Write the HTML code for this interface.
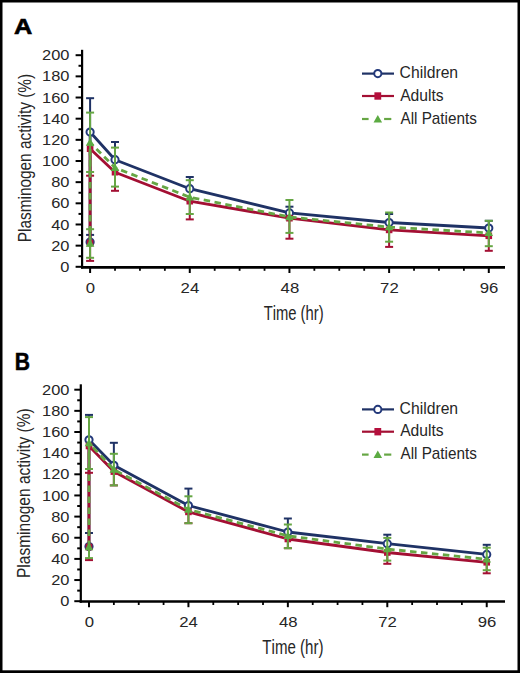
<!DOCTYPE html>
<html><head><meta charset="utf-8"><style>
html,body{margin:0;padding:0;background:#fff;}
svg{display:block;}
text{font-family:"Liberation Sans",sans-serif;font-kerning:none;}
</style></head><body>
<svg width="520" height="673" viewBox="0 0 520 673">
<rect x="0" y="0" width="520" height="673" fill="#fff"/>
<line x1="82.10" y1="49.80" x2="82.10" y2="268.50" stroke="#000" stroke-width="2.2"/>
<line x1="81.00" y1="267.30" x2="505.00" y2="267.30" stroke="#000" stroke-width="2.8"/>
<line x1="75.60" y1="266.80" x2="82.10" y2="266.80" stroke="#000" stroke-width="2"/>
<line x1="78.50" y1="256.22" x2="82.10" y2="256.22" stroke="#000" stroke-width="2"/>
<line x1="75.60" y1="245.64" x2="82.10" y2="245.64" stroke="#000" stroke-width="2"/>
<line x1="78.50" y1="235.06" x2="82.10" y2="235.06" stroke="#000" stroke-width="2"/>
<line x1="75.60" y1="224.48" x2="82.10" y2="224.48" stroke="#000" stroke-width="2"/>
<line x1="78.50" y1="213.90" x2="82.10" y2="213.90" stroke="#000" stroke-width="2"/>
<line x1="75.60" y1="203.32" x2="82.10" y2="203.32" stroke="#000" stroke-width="2"/>
<line x1="78.50" y1="192.74" x2="82.10" y2="192.74" stroke="#000" stroke-width="2"/>
<line x1="75.60" y1="182.16" x2="82.10" y2="182.16" stroke="#000" stroke-width="2"/>
<line x1="78.50" y1="171.58" x2="82.10" y2="171.58" stroke="#000" stroke-width="2"/>
<line x1="75.60" y1="161.00" x2="82.10" y2="161.00" stroke="#000" stroke-width="2"/>
<line x1="78.50" y1="150.42" x2="82.10" y2="150.42" stroke="#000" stroke-width="2"/>
<line x1="75.60" y1="139.84" x2="82.10" y2="139.84" stroke="#000" stroke-width="2"/>
<line x1="78.50" y1="129.26" x2="82.10" y2="129.26" stroke="#000" stroke-width="2"/>
<line x1="75.60" y1="118.68" x2="82.10" y2="118.68" stroke="#000" stroke-width="2"/>
<line x1="78.50" y1="108.10" x2="82.10" y2="108.10" stroke="#000" stroke-width="2"/>
<line x1="75.60" y1="97.52" x2="82.10" y2="97.52" stroke="#000" stroke-width="2"/>
<line x1="78.50" y1="86.94" x2="82.10" y2="86.94" stroke="#000" stroke-width="2"/>
<line x1="75.60" y1="76.36" x2="82.10" y2="76.36" stroke="#000" stroke-width="2"/>
<line x1="78.50" y1="65.78" x2="82.10" y2="65.78" stroke="#000" stroke-width="2"/>
<line x1="75.60" y1="55.20" x2="82.10" y2="55.20" stroke="#000" stroke-width="2"/>
<line x1="90.10" y1="267.30" x2="90.10" y2="273.00" stroke="#000" stroke-width="2"/>
<line x1="115.02" y1="267.30" x2="115.02" y2="270.80" stroke="#000" stroke-width="1.8"/>
<line x1="139.94" y1="267.30" x2="139.94" y2="270.80" stroke="#000" stroke-width="1.8"/>
<line x1="164.85" y1="267.30" x2="164.85" y2="270.80" stroke="#000" stroke-width="1.8"/>
<line x1="189.77" y1="267.30" x2="189.77" y2="273.00" stroke="#000" stroke-width="2"/>
<line x1="214.69" y1="267.30" x2="214.69" y2="270.80" stroke="#000" stroke-width="1.8"/>
<line x1="239.61" y1="267.30" x2="239.61" y2="270.80" stroke="#000" stroke-width="1.8"/>
<line x1="264.53" y1="267.30" x2="264.53" y2="270.80" stroke="#000" stroke-width="1.8"/>
<line x1="289.44" y1="267.30" x2="289.44" y2="273.00" stroke="#000" stroke-width="2"/>
<line x1="314.36" y1="267.30" x2="314.36" y2="270.80" stroke="#000" stroke-width="1.8"/>
<line x1="339.28" y1="267.30" x2="339.28" y2="270.80" stroke="#000" stroke-width="1.8"/>
<line x1="364.20" y1="267.30" x2="364.20" y2="270.80" stroke="#000" stroke-width="1.8"/>
<line x1="389.12" y1="267.30" x2="389.12" y2="273.00" stroke="#000" stroke-width="2"/>
<line x1="414.03" y1="267.30" x2="414.03" y2="270.80" stroke="#000" stroke-width="1.8"/>
<line x1="438.95" y1="267.30" x2="438.95" y2="270.80" stroke="#000" stroke-width="1.8"/>
<line x1="463.87" y1="267.30" x2="463.87" y2="270.80" stroke="#000" stroke-width="1.8"/>
<line x1="488.79" y1="267.30" x2="488.79" y2="273.00" stroke="#000" stroke-width="2"/>
<text x="60.30" y="271.90" font-size="15.50" font-weight="normal" textLength="9.14" lengthAdjust="spacingAndGlyphs" fill="#262626" >0</text>
<text x="51.17" y="250.74" font-size="15.50" font-weight="normal" textLength="18.28" lengthAdjust="spacingAndGlyphs" fill="#262626" >20</text>
<text x="51.17" y="229.58" font-size="15.50" font-weight="normal" textLength="18.28" lengthAdjust="spacingAndGlyphs" fill="#262626" >40</text>
<text x="51.17" y="208.42" font-size="15.50" font-weight="normal" textLength="18.28" lengthAdjust="spacingAndGlyphs" fill="#262626" >60</text>
<text x="51.17" y="187.26" font-size="15.50" font-weight="normal" textLength="18.28" lengthAdjust="spacingAndGlyphs" fill="#262626" >80</text>
<text x="42.03" y="166.10" font-size="15.50" font-weight="normal" textLength="27.41" lengthAdjust="spacingAndGlyphs" fill="#262626" >100</text>
<text x="42.03" y="144.94" font-size="15.50" font-weight="normal" textLength="27.41" lengthAdjust="spacingAndGlyphs" fill="#262626" >120</text>
<text x="42.03" y="123.78" font-size="15.50" font-weight="normal" textLength="27.41" lengthAdjust="spacingAndGlyphs" fill="#262626" >140</text>
<text x="42.03" y="102.62" font-size="15.50" font-weight="normal" textLength="27.41" lengthAdjust="spacingAndGlyphs" fill="#262626" >160</text>
<text x="42.03" y="81.46" font-size="15.50" font-weight="normal" textLength="27.41" lengthAdjust="spacingAndGlyphs" fill="#262626" >180</text>
<text x="42.03" y="60.30" font-size="15.50" font-weight="normal" textLength="27.41" lengthAdjust="spacingAndGlyphs" fill="#262626" >200</text>
<text x="85.75" y="292.50" font-size="15.50" font-weight="normal" textLength="9.31" lengthAdjust="spacingAndGlyphs" fill="#262626" >0</text>
<text x="180.59" y="292.50" font-size="15.50" font-weight="normal" textLength="18.62" lengthAdjust="spacingAndGlyphs" fill="#262626" >24</text>
<text x="280.61" y="292.50" font-size="15.50" font-weight="normal" textLength="18.62" lengthAdjust="spacingAndGlyphs" fill="#262626" >48</text>
<text x="380.10" y="292.50" font-size="15.50" font-weight="normal" textLength="18.62" lengthAdjust="spacingAndGlyphs" fill="#262626" >72</text>
<text x="479.75" y="292.50" font-size="15.50" font-weight="normal" textLength="18.62" lengthAdjust="spacingAndGlyphs" fill="#262626" >96</text>
<text x="263.67" y="319.50" font-size="19.80" font-weight="normal" textLength="59.95" lengthAdjust="spacingAndGlyphs" fill="#262626" >Time (hr)</text>
<text transform="rotate(-90)" x="-242.16" y="30.80" font-size="19.20" textLength="168.21" lengthAdjust="spacingAndGlyphs" fill="#262626">Plasminogen activity (%)</text>
<text x="13.97" y="33.70" font-size="22.53" font-weight="bold" textLength="18.30" lengthAdjust="spacingAndGlyphs" fill="#000" stroke="#000" stroke-width="0.6" stroke-linejoin="miter">A</text>
<line x1="362" y1="73.6" x2="394" y2="73.6" stroke="#1f3265" stroke-width="2.2"/>
<circle cx="377.8" cy="73.6" r="3.6" fill="#fff" stroke="#22387a" stroke-width="2"/>
<line x1="362" y1="96.0" x2="394" y2="96.0" stroke="#a30f33" stroke-width="2.2"/>
<rect x="374.40000000000003" y="92.3" width="6.8" height="7.4" fill="#b40f3c"/>
<line x1="362" y1="119.0" x2="368.6" y2="119.0" stroke="#66a644" stroke-width="2.2"/>
<line x1="384.1" y1="119.0" x2="391.3" y2="119.0" stroke="#66a644" stroke-width="2.2"/>
<path d="M377.80,114.90 L382.10,122.40 L373.50,122.40 Z" fill="#5cab42"/>
<text x="399.60" y="78.40" font-size="15.90" font-weight="normal" textLength="58.52" lengthAdjust="spacingAndGlyphs" fill="#262626" >Children</text>
<text x="400.17" y="100.60" font-size="15.90" font-weight="normal" textLength="43.50" lengthAdjust="spacingAndGlyphs" fill="#262626" >Adults</text>
<text x="400.47" y="123.50" font-size="15.90" font-weight="normal" textLength="76.38" lengthAdjust="spacingAndGlyphs" fill="#262626" >All Patients</text>
<path d="M90.10,242.00 L90.10,132.00 L115.02,159.70 L189.77,188.70 L289.44,212.90 L389.12,222.50 L488.79,228.00" fill="none" stroke="#1f3265" stroke-width="2.8" stroke-linejoin="round"/>
<line x1="90.10" y1="242.00" x2="90.10" y2="234.90" stroke="#1f3265" stroke-width="2"/>
<line x1="86.10" y1="234.90" x2="94.10" y2="234.90" stroke="#1f3265" stroke-width="2"/>
<line x1="90.10" y1="132.00" x2="90.10" y2="98.20" stroke="#1f3265" stroke-width="2"/>
<line x1="86.10" y1="98.20" x2="94.10" y2="98.20" stroke="#1f3265" stroke-width="2"/>
<line x1="115.02" y1="159.70" x2="115.02" y2="142.00" stroke="#1f3265" stroke-width="2"/>
<line x1="111.02" y1="142.00" x2="119.02" y2="142.00" stroke="#1f3265" stroke-width="2"/>
<line x1="189.77" y1="188.70" x2="189.77" y2="177.00" stroke="#1f3265" stroke-width="2"/>
<line x1="185.77" y1="177.00" x2="193.77" y2="177.00" stroke="#1f3265" stroke-width="2"/>
<line x1="289.44" y1="212.90" x2="289.44" y2="206.70" stroke="#1f3265" stroke-width="2"/>
<line x1="285.44" y1="206.70" x2="293.44" y2="206.70" stroke="#1f3265" stroke-width="2"/>
<line x1="389.12" y1="222.50" x2="389.12" y2="214.00" stroke="#1f3265" stroke-width="2"/>
<line x1="385.12" y1="214.00" x2="393.12" y2="214.00" stroke="#1f3265" stroke-width="2"/>
<line x1="488.79" y1="228.00" x2="488.79" y2="220.80" stroke="#1f3265" stroke-width="2"/>
<line x1="484.79" y1="220.80" x2="492.79" y2="220.80" stroke="#1f3265" stroke-width="2"/>
<circle cx="90.10" cy="242.00" r="3.6" fill="#fff" stroke="#22387a" stroke-width="2"/>
<circle cx="90.10" cy="132.00" r="3.6" fill="#fff" stroke="#22387a" stroke-width="2"/>
<circle cx="115.02" cy="159.70" r="3.6" fill="#fff" stroke="#22387a" stroke-width="2"/>
<circle cx="189.77" cy="188.70" r="3.6" fill="#fff" stroke="#22387a" stroke-width="2"/>
<circle cx="289.44" cy="212.90" r="3.6" fill="#fff" stroke="#22387a" stroke-width="2"/>
<circle cx="389.12" cy="222.50" r="3.6" fill="#fff" stroke="#22387a" stroke-width="2"/>
<circle cx="488.79" cy="228.00" r="3.6" fill="#fff" stroke="#22387a" stroke-width="2"/>
<path d="M90.10,243.00 L90.10,148.70 L115.02,172.20 L189.77,201.20 L289.44,218.20 L389.12,229.90 L488.79,235.80" fill="none" stroke="#a30f33" stroke-width="2.8" stroke-linejoin="round"/>
<line x1="90.10" y1="243.00" x2="90.10" y2="260.90" stroke="#a30f33" stroke-width="2"/>
<line x1="86.10" y1="260.90" x2="94.10" y2="260.90" stroke="#a30f33" stroke-width="2"/>
<line x1="90.10" y1="148.70" x2="90.10" y2="175.70" stroke="#a30f33" stroke-width="2"/>
<line x1="86.10" y1="175.70" x2="94.10" y2="175.70" stroke="#a30f33" stroke-width="2"/>
<line x1="115.02" y1="172.20" x2="115.02" y2="190.80" stroke="#a30f33" stroke-width="2"/>
<line x1="111.02" y1="190.80" x2="119.02" y2="190.80" stroke="#a30f33" stroke-width="2"/>
<line x1="189.77" y1="201.20" x2="189.77" y2="219.40" stroke="#a30f33" stroke-width="2"/>
<line x1="185.77" y1="219.40" x2="193.77" y2="219.40" stroke="#a30f33" stroke-width="2"/>
<line x1="289.44" y1="218.20" x2="289.44" y2="238.70" stroke="#a30f33" stroke-width="2"/>
<line x1="285.44" y1="238.70" x2="293.44" y2="238.70" stroke="#a30f33" stroke-width="2"/>
<line x1="389.12" y1="229.90" x2="389.12" y2="246.90" stroke="#a30f33" stroke-width="2"/>
<line x1="385.12" y1="246.90" x2="393.12" y2="246.90" stroke="#a30f33" stroke-width="2"/>
<line x1="488.79" y1="235.80" x2="488.79" y2="250.80" stroke="#a30f33" stroke-width="2"/>
<line x1="484.79" y1="250.80" x2="492.79" y2="250.80" stroke="#a30f33" stroke-width="2"/>
<rect x="86.80" y="239.70" width="6.6" height="6.6" fill="#b40f3c"/>
<rect x="86.80" y="145.40" width="6.6" height="6.6" fill="#b40f3c"/>
<rect x="111.72" y="168.90" width="6.6" height="6.6" fill="#b40f3c"/>
<rect x="186.47" y="197.90" width="6.6" height="6.6" fill="#b40f3c"/>
<rect x="286.14" y="214.90" width="6.6" height="6.6" fill="#b40f3c"/>
<rect x="385.82" y="226.60" width="6.6" height="6.6" fill="#b40f3c"/>
<rect x="485.49" y="232.50" width="6.6" height="6.6" fill="#b40f3c"/>
<path d="M90.10,243.50 L90.10,142.50 L115.02,167.70 L189.77,197.20 L289.44,217.00 L389.12,227.10 L488.79,232.90" fill="none" stroke="#66a644" stroke-width="2.8" stroke-linejoin="round" stroke-dasharray="6.5 4.5"/>
<line x1="90.10" y1="243.50" x2="90.10" y2="229.20" stroke="#66a644" stroke-width="2"/>
<line x1="86.10" y1="229.20" x2="94.10" y2="229.20" stroke="#66a644" stroke-width="2"/>
<line x1="90.10" y1="243.50" x2="90.10" y2="257.80" stroke="#66a644" stroke-width="2"/>
<line x1="86.10" y1="257.80" x2="94.10" y2="257.80" stroke="#66a644" stroke-width="2"/>
<line x1="90.10" y1="142.50" x2="90.10" y2="112.60" stroke="#66a644" stroke-width="2"/>
<line x1="86.10" y1="112.60" x2="94.10" y2="112.60" stroke="#66a644" stroke-width="2"/>
<line x1="90.10" y1="142.50" x2="90.10" y2="172.00" stroke="#66a644" stroke-width="2"/>
<line x1="86.10" y1="172.00" x2="94.10" y2="172.00" stroke="#66a644" stroke-width="2"/>
<line x1="115.02" y1="167.70" x2="115.02" y2="147.60" stroke="#66a644" stroke-width="2"/>
<line x1="111.02" y1="147.60" x2="119.02" y2="147.60" stroke="#66a644" stroke-width="2"/>
<line x1="115.02" y1="167.70" x2="115.02" y2="186.60" stroke="#66a644" stroke-width="2"/>
<line x1="111.02" y1="186.60" x2="119.02" y2="186.60" stroke="#66a644" stroke-width="2"/>
<line x1="189.77" y1="197.20" x2="189.77" y2="180.20" stroke="#66a644" stroke-width="2"/>
<line x1="185.77" y1="180.20" x2="193.77" y2="180.20" stroke="#66a644" stroke-width="2"/>
<line x1="189.77" y1="197.20" x2="189.77" y2="214.00" stroke="#66a644" stroke-width="2"/>
<line x1="185.77" y1="214.00" x2="193.77" y2="214.00" stroke="#66a644" stroke-width="2"/>
<line x1="289.44" y1="217.00" x2="289.44" y2="200.00" stroke="#66a644" stroke-width="2"/>
<line x1="285.44" y1="200.00" x2="293.44" y2="200.00" stroke="#66a644" stroke-width="2"/>
<line x1="289.44" y1="217.00" x2="289.44" y2="232.90" stroke="#66a644" stroke-width="2"/>
<line x1="285.44" y1="232.90" x2="293.44" y2="232.90" stroke="#66a644" stroke-width="2"/>
<line x1="389.12" y1="227.10" x2="389.12" y2="212.50" stroke="#66a644" stroke-width="2"/>
<line x1="385.12" y1="212.50" x2="393.12" y2="212.50" stroke="#66a644" stroke-width="2"/>
<line x1="389.12" y1="227.10" x2="389.12" y2="241.70" stroke="#66a644" stroke-width="2"/>
<line x1="385.12" y1="241.70" x2="393.12" y2="241.70" stroke="#66a644" stroke-width="2"/>
<line x1="488.79" y1="232.90" x2="488.79" y2="220.80" stroke="#66a644" stroke-width="2"/>
<line x1="484.79" y1="220.80" x2="492.79" y2="220.80" stroke="#66a644" stroke-width="2"/>
<line x1="488.79" y1="232.90" x2="488.79" y2="246.20" stroke="#66a644" stroke-width="2"/>
<line x1="484.79" y1="246.20" x2="492.79" y2="246.20" stroke="#66a644" stroke-width="2"/>
<path d="M90.10,239.20 L94.40,246.70 L85.80,246.70 Z" fill="#5cab42"/>
<path d="M90.10,138.20 L94.40,145.70 L85.80,145.70 Z" fill="#5cab42"/>
<path d="M115.02,163.40 L119.32,170.90 L110.72,170.90 Z" fill="#5cab42"/>
<path d="M189.77,192.90 L194.07,200.40 L185.47,200.40 Z" fill="#5cab42"/>
<path d="M289.44,212.70 L293.74,220.20 L285.14,220.20 Z" fill="#5cab42"/>
<path d="M389.12,222.80 L393.42,230.30 L384.82,230.30 Z" fill="#5cab42"/>
<path d="M488.79,228.60 L493.09,236.10 L484.49,236.10 Z" fill="#5cab42"/>
<line x1="80.80" y1="384.30" x2="80.80" y2="602.70" stroke="#000" stroke-width="2.2"/>
<line x1="79.70" y1="601.50" x2="505.00" y2="601.50" stroke="#000" stroke-width="2.7"/>
<line x1="74.30" y1="601.20" x2="80.80" y2="601.20" stroke="#000" stroke-width="2"/>
<line x1="77.20" y1="590.62" x2="80.80" y2="590.62" stroke="#000" stroke-width="2"/>
<line x1="74.30" y1="580.05" x2="80.80" y2="580.05" stroke="#000" stroke-width="2"/>
<line x1="77.20" y1="569.48" x2="80.80" y2="569.48" stroke="#000" stroke-width="2"/>
<line x1="74.30" y1="558.90" x2="80.80" y2="558.90" stroke="#000" stroke-width="2"/>
<line x1="77.20" y1="548.33" x2="80.80" y2="548.33" stroke="#000" stroke-width="2"/>
<line x1="74.30" y1="537.75" x2="80.80" y2="537.75" stroke="#000" stroke-width="2"/>
<line x1="77.20" y1="527.18" x2="80.80" y2="527.18" stroke="#000" stroke-width="2"/>
<line x1="74.30" y1="516.60" x2="80.80" y2="516.60" stroke="#000" stroke-width="2"/>
<line x1="77.20" y1="506.03" x2="80.80" y2="506.03" stroke="#000" stroke-width="2"/>
<line x1="74.30" y1="495.45" x2="80.80" y2="495.45" stroke="#000" stroke-width="2"/>
<line x1="77.20" y1="484.88" x2="80.80" y2="484.88" stroke="#000" stroke-width="2"/>
<line x1="74.30" y1="474.30" x2="80.80" y2="474.30" stroke="#000" stroke-width="2"/>
<line x1="77.20" y1="463.73" x2="80.80" y2="463.73" stroke="#000" stroke-width="2"/>
<line x1="74.30" y1="453.15" x2="80.80" y2="453.15" stroke="#000" stroke-width="2"/>
<line x1="77.20" y1="442.58" x2="80.80" y2="442.58" stroke="#000" stroke-width="2"/>
<line x1="74.30" y1="432.00" x2="80.80" y2="432.00" stroke="#000" stroke-width="2"/>
<line x1="77.20" y1="421.43" x2="80.80" y2="421.43" stroke="#000" stroke-width="2"/>
<line x1="74.30" y1="410.85" x2="80.80" y2="410.85" stroke="#000" stroke-width="2"/>
<line x1="77.20" y1="400.28" x2="80.80" y2="400.28" stroke="#000" stroke-width="2"/>
<line x1="74.30" y1="389.70" x2="80.80" y2="389.70" stroke="#000" stroke-width="2"/>
<line x1="89.00" y1="601.50" x2="89.00" y2="607.20" stroke="#000" stroke-width="2"/>
<line x1="113.86" y1="601.50" x2="113.86" y2="605.00" stroke="#000" stroke-width="1.8"/>
<line x1="138.72" y1="601.50" x2="138.72" y2="605.00" stroke="#000" stroke-width="1.8"/>
<line x1="163.57" y1="601.50" x2="163.57" y2="605.00" stroke="#000" stroke-width="1.8"/>
<line x1="188.43" y1="601.50" x2="188.43" y2="607.20" stroke="#000" stroke-width="2"/>
<line x1="213.29" y1="601.50" x2="213.29" y2="605.00" stroke="#000" stroke-width="1.8"/>
<line x1="238.15" y1="601.50" x2="238.15" y2="605.00" stroke="#000" stroke-width="1.8"/>
<line x1="263.01" y1="601.50" x2="263.01" y2="605.00" stroke="#000" stroke-width="1.8"/>
<line x1="287.86" y1="601.50" x2="287.86" y2="607.20" stroke="#000" stroke-width="2"/>
<line x1="312.72" y1="601.50" x2="312.72" y2="605.00" stroke="#000" stroke-width="1.8"/>
<line x1="337.58" y1="601.50" x2="337.58" y2="605.00" stroke="#000" stroke-width="1.8"/>
<line x1="362.44" y1="601.50" x2="362.44" y2="605.00" stroke="#000" stroke-width="1.8"/>
<line x1="387.30" y1="601.50" x2="387.30" y2="607.20" stroke="#000" stroke-width="2"/>
<line x1="412.15" y1="601.50" x2="412.15" y2="605.00" stroke="#000" stroke-width="1.8"/>
<line x1="437.01" y1="601.50" x2="437.01" y2="605.00" stroke="#000" stroke-width="1.8"/>
<line x1="461.87" y1="601.50" x2="461.87" y2="605.00" stroke="#000" stroke-width="1.8"/>
<line x1="486.73" y1="601.50" x2="486.73" y2="607.20" stroke="#000" stroke-width="2"/>
<text x="60.30" y="606.30" font-size="15.50" font-weight="normal" textLength="9.14" lengthAdjust="spacingAndGlyphs" fill="#262626" >0</text>
<text x="51.17" y="585.15" font-size="15.50" font-weight="normal" textLength="18.28" lengthAdjust="spacingAndGlyphs" fill="#262626" >20</text>
<text x="51.17" y="564.00" font-size="15.50" font-weight="normal" textLength="18.28" lengthAdjust="spacingAndGlyphs" fill="#262626" >40</text>
<text x="51.17" y="542.85" font-size="15.50" font-weight="normal" textLength="18.28" lengthAdjust="spacingAndGlyphs" fill="#262626" >60</text>
<text x="51.17" y="521.70" font-size="15.50" font-weight="normal" textLength="18.28" lengthAdjust="spacingAndGlyphs" fill="#262626" >80</text>
<text x="42.03" y="500.55" font-size="15.50" font-weight="normal" textLength="27.41" lengthAdjust="spacingAndGlyphs" fill="#262626" >100</text>
<text x="42.03" y="479.40" font-size="15.50" font-weight="normal" textLength="27.41" lengthAdjust="spacingAndGlyphs" fill="#262626" >120</text>
<text x="42.03" y="458.25" font-size="15.50" font-weight="normal" textLength="27.41" lengthAdjust="spacingAndGlyphs" fill="#262626" >140</text>
<text x="42.03" y="437.10" font-size="15.50" font-weight="normal" textLength="27.41" lengthAdjust="spacingAndGlyphs" fill="#262626" >160</text>
<text x="42.03" y="415.95" font-size="15.50" font-weight="normal" textLength="27.41" lengthAdjust="spacingAndGlyphs" fill="#262626" >180</text>
<text x="42.03" y="394.80" font-size="15.50" font-weight="normal" textLength="27.41" lengthAdjust="spacingAndGlyphs" fill="#262626" >200</text>
<text x="84.65" y="626.80" font-size="15.50" font-weight="normal" textLength="9.31" lengthAdjust="spacingAndGlyphs" fill="#262626" >0</text>
<text x="179.25" y="626.80" font-size="15.50" font-weight="normal" textLength="18.62" lengthAdjust="spacingAndGlyphs" fill="#262626" >24</text>
<text x="279.03" y="626.80" font-size="15.50" font-weight="normal" textLength="18.62" lengthAdjust="spacingAndGlyphs" fill="#262626" >48</text>
<text x="378.28" y="626.80" font-size="15.50" font-weight="normal" textLength="18.62" lengthAdjust="spacingAndGlyphs" fill="#262626" >72</text>
<text x="477.69" y="626.80" font-size="15.50" font-weight="normal" textLength="18.62" lengthAdjust="spacingAndGlyphs" fill="#262626" >96</text>
<text x="262.36" y="653.80" font-size="19.80" font-weight="normal" textLength="61.07" lengthAdjust="spacingAndGlyphs" fill="#262626" >Time (hr)</text>
<text transform="rotate(-90)" x="-577.97" y="30.30" font-size="19.20" textLength="169.63" lengthAdjust="spacingAndGlyphs" fill="#262626">Plasminogen activity (%)</text>
<text x="14.84" y="369.55" font-size="23.40" font-weight="bold" textLength="15.28" lengthAdjust="spacingAndGlyphs" fill="#000" stroke="#000" stroke-width="0.5" stroke-linejoin="miter">B</text>
<line x1="362" y1="409.4" x2="394" y2="409.4" stroke="#1f3265" stroke-width="2.2"/>
<circle cx="377.8" cy="409.4" r="3.6" fill="#fff" stroke="#22387a" stroke-width="2"/>
<line x1="362" y1="431.7" x2="394" y2="431.7" stroke="#a30f33" stroke-width="2.2"/>
<rect x="374.40000000000003" y="428.0" width="6.8" height="7.4" fill="#b40f3c"/>
<line x1="362" y1="454.6" x2="368.6" y2="454.6" stroke="#66a644" stroke-width="2.2"/>
<line x1="384.1" y1="454.6" x2="391.3" y2="454.6" stroke="#66a644" stroke-width="2.2"/>
<path d="M377.80,450.50 L382.10,458.00 L373.50,458.00 Z" fill="#5cab42"/>
<text x="399.60" y="414.20" font-size="15.90" font-weight="normal" textLength="58.52" lengthAdjust="spacingAndGlyphs" fill="#262626" >Children</text>
<text x="400.17" y="436.30" font-size="15.90" font-weight="normal" textLength="43.50" lengthAdjust="spacingAndGlyphs" fill="#262626" >Adults</text>
<text x="400.47" y="459.10" font-size="15.90" font-weight="normal" textLength="76.38" lengthAdjust="spacingAndGlyphs" fill="#262626" >All Patients</text>
<path d="M89.00,546.60 L89.00,439.80 L113.86,465.30 L188.43,505.50 L287.86,532.00 L387.30,543.70 L486.73,554.40" fill="none" stroke="#1f3265" stroke-width="2.8" stroke-linejoin="round"/>
<line x1="89.00" y1="546.60" x2="89.00" y2="533.00" stroke="#1f3265" stroke-width="2"/>
<line x1="85.00" y1="533.00" x2="93.00" y2="533.00" stroke="#1f3265" stroke-width="2"/>
<line x1="89.00" y1="439.80" x2="89.00" y2="414.90" stroke="#1f3265" stroke-width="2"/>
<line x1="85.00" y1="414.90" x2="93.00" y2="414.90" stroke="#1f3265" stroke-width="2"/>
<line x1="113.86" y1="465.30" x2="113.86" y2="442.80" stroke="#1f3265" stroke-width="2"/>
<line x1="109.86" y1="442.80" x2="117.86" y2="442.80" stroke="#1f3265" stroke-width="2"/>
<line x1="188.43" y1="505.50" x2="188.43" y2="488.60" stroke="#1f3265" stroke-width="2"/>
<line x1="184.43" y1="488.60" x2="192.43" y2="488.60" stroke="#1f3265" stroke-width="2"/>
<line x1="287.86" y1="532.00" x2="287.86" y2="518.50" stroke="#1f3265" stroke-width="2"/>
<line x1="283.86" y1="518.50" x2="291.86" y2="518.50" stroke="#1f3265" stroke-width="2"/>
<line x1="387.30" y1="543.70" x2="387.30" y2="534.70" stroke="#1f3265" stroke-width="2"/>
<line x1="383.30" y1="534.70" x2="391.30" y2="534.70" stroke="#1f3265" stroke-width="2"/>
<line x1="486.73" y1="554.40" x2="486.73" y2="544.80" stroke="#1f3265" stroke-width="2"/>
<line x1="482.73" y1="544.80" x2="490.73" y2="544.80" stroke="#1f3265" stroke-width="2"/>
<circle cx="89.00" cy="546.60" r="3.6" fill="#fff" stroke="#22387a" stroke-width="2"/>
<circle cx="89.00" cy="439.80" r="3.6" fill="#fff" stroke="#22387a" stroke-width="2"/>
<circle cx="113.86" cy="465.30" r="3.6" fill="#fff" stroke="#22387a" stroke-width="2"/>
<circle cx="188.43" cy="505.50" r="3.6" fill="#fff" stroke="#22387a" stroke-width="2"/>
<circle cx="287.86" cy="532.00" r="3.6" fill="#fff" stroke="#22387a" stroke-width="2"/>
<circle cx="387.30" cy="543.70" r="3.6" fill="#fff" stroke="#22387a" stroke-width="2"/>
<circle cx="486.73" cy="554.40" r="3.6" fill="#fff" stroke="#22387a" stroke-width="2"/>
<path d="M89.00,547.00 L89.00,446.00 L113.86,471.60 L188.43,511.90 L287.86,539.00 L387.30,552.50 L486.73,562.30" fill="none" stroke="#a30f33" stroke-width="2.8" stroke-linejoin="round"/>
<line x1="89.00" y1="547.00" x2="89.00" y2="560.10" stroke="#a30f33" stroke-width="2"/>
<line x1="85.00" y1="560.10" x2="93.00" y2="560.10" stroke="#a30f33" stroke-width="2"/>
<line x1="89.00" y1="446.00" x2="89.00" y2="472.80" stroke="#a30f33" stroke-width="2"/>
<line x1="85.00" y1="472.80" x2="93.00" y2="472.80" stroke="#a30f33" stroke-width="2"/>
<line x1="113.86" y1="471.60" x2="113.86" y2="485.40" stroke="#a30f33" stroke-width="2"/>
<line x1="109.86" y1="485.40" x2="117.86" y2="485.40" stroke="#a30f33" stroke-width="2"/>
<line x1="188.43" y1="511.90" x2="188.43" y2="523.20" stroke="#a30f33" stroke-width="2"/>
<line x1="184.43" y1="523.20" x2="192.43" y2="523.20" stroke="#a30f33" stroke-width="2"/>
<line x1="287.86" y1="539.00" x2="287.86" y2="548.20" stroke="#a30f33" stroke-width="2"/>
<line x1="283.86" y1="548.20" x2="291.86" y2="548.20" stroke="#a30f33" stroke-width="2"/>
<line x1="387.30" y1="552.50" x2="387.30" y2="563.80" stroke="#a30f33" stroke-width="2"/>
<line x1="383.30" y1="563.80" x2="391.30" y2="563.80" stroke="#a30f33" stroke-width="2"/>
<line x1="486.73" y1="562.30" x2="486.73" y2="573.30" stroke="#a30f33" stroke-width="2"/>
<line x1="482.73" y1="573.30" x2="490.73" y2="573.30" stroke="#a30f33" stroke-width="2"/>
<rect x="85.70" y="543.70" width="6.6" height="6.6" fill="#b40f3c"/>
<rect x="85.70" y="442.70" width="6.6" height="6.6" fill="#b40f3c"/>
<rect x="110.56" y="468.30" width="6.6" height="6.6" fill="#b40f3c"/>
<rect x="185.13" y="508.60" width="6.6" height="6.6" fill="#b40f3c"/>
<rect x="284.56" y="535.70" width="6.6" height="6.6" fill="#b40f3c"/>
<rect x="384.00" y="549.20" width="6.6" height="6.6" fill="#b40f3c"/>
<rect x="483.43" y="559.00" width="6.6" height="6.6" fill="#b40f3c"/>
<path d="M89.00,547.00 L89.00,443.00 L113.86,469.60 L188.43,509.45 L287.86,535.85 L387.30,549.05 L486.73,559.25" fill="none" stroke="#66a644" stroke-width="2.8" stroke-linejoin="round" stroke-dasharray="6.5 4.5"/>
<line x1="89.00" y1="547.00" x2="89.00" y2="558.10" stroke="#66a644" stroke-width="2"/>
<line x1="85.00" y1="558.10" x2="93.00" y2="558.10" stroke="#66a644" stroke-width="2"/>
<line x1="89.00" y1="443.00" x2="89.00" y2="417.10" stroke="#66a644" stroke-width="2"/>
<line x1="85.00" y1="417.10" x2="93.00" y2="417.10" stroke="#66a644" stroke-width="2"/>
<line x1="89.00" y1="443.00" x2="89.00" y2="469.00" stroke="#66a644" stroke-width="2"/>
<line x1="85.00" y1="469.00" x2="93.00" y2="469.00" stroke="#66a644" stroke-width="2"/>
<line x1="113.86" y1="469.60" x2="113.86" y2="453.80" stroke="#66a644" stroke-width="2"/>
<line x1="109.86" y1="453.80" x2="117.86" y2="453.80" stroke="#66a644" stroke-width="2"/>
<line x1="113.86" y1="469.60" x2="113.86" y2="485.40" stroke="#66a644" stroke-width="2"/>
<line x1="109.86" y1="485.40" x2="117.86" y2="485.40" stroke="#66a644" stroke-width="2"/>
<line x1="188.43" y1="509.45" x2="188.43" y2="496.30" stroke="#66a644" stroke-width="2"/>
<line x1="184.43" y1="496.30" x2="192.43" y2="496.30" stroke="#66a644" stroke-width="2"/>
<line x1="188.43" y1="509.45" x2="188.43" y2="523.20" stroke="#66a644" stroke-width="2"/>
<line x1="184.43" y1="523.20" x2="192.43" y2="523.20" stroke="#66a644" stroke-width="2"/>
<line x1="287.86" y1="535.85" x2="287.86" y2="524.50" stroke="#66a644" stroke-width="2"/>
<line x1="283.86" y1="524.50" x2="291.86" y2="524.50" stroke="#66a644" stroke-width="2"/>
<line x1="287.86" y1="535.85" x2="287.86" y2="548.20" stroke="#66a644" stroke-width="2"/>
<line x1="283.86" y1="548.20" x2="291.86" y2="548.20" stroke="#66a644" stroke-width="2"/>
<line x1="387.30" y1="549.05" x2="387.30" y2="537.90" stroke="#66a644" stroke-width="2"/>
<line x1="383.30" y1="537.90" x2="391.30" y2="537.90" stroke="#66a644" stroke-width="2"/>
<line x1="387.30" y1="549.05" x2="387.30" y2="560.60" stroke="#66a644" stroke-width="2"/>
<line x1="383.30" y1="560.60" x2="391.30" y2="560.60" stroke="#66a644" stroke-width="2"/>
<line x1="486.73" y1="559.25" x2="486.73" y2="547.70" stroke="#66a644" stroke-width="2"/>
<line x1="482.73" y1="547.70" x2="490.73" y2="547.70" stroke="#66a644" stroke-width="2"/>
<line x1="486.73" y1="559.25" x2="486.73" y2="570.20" stroke="#66a644" stroke-width="2"/>
<line x1="482.73" y1="570.20" x2="490.73" y2="570.20" stroke="#66a644" stroke-width="2"/>
<path d="M89.00,542.70 L93.30,550.20 L84.70,550.20 Z" fill="#5cab42"/>
<path d="M89.00,438.70 L93.30,446.20 L84.70,446.20 Z" fill="#5cab42"/>
<path d="M113.86,465.30 L118.16,472.80 L109.56,472.80 Z" fill="#5cab42"/>
<path d="M188.43,505.15 L192.73,512.65 L184.13,512.65 Z" fill="#5cab42"/>
<path d="M287.86,531.55 L292.16,539.05 L283.56,539.05 Z" fill="#5cab42"/>
<path d="M387.30,544.75 L391.60,552.25 L383.00,552.25 Z" fill="#5cab42"/>
<path d="M486.73,554.95 L491.03,562.45 L482.43,562.45 Z" fill="#5cab42"/>
<rect x="0" y="0" width="2.5" height="673" fill="#000"/>
<rect x="0" y="0" width="520" height="2.5" fill="#000"/>
<rect x="517.5" y="0" width="2.5" height="673" fill="#000"/>
<rect x="0" y="670.3" width="520" height="2.7" fill="#000"/>
</svg>
</body></html>
